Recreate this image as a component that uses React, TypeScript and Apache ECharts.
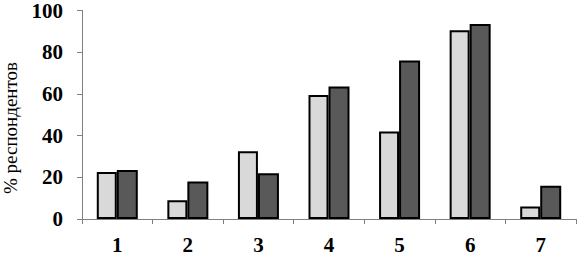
import React, { useEffect, useRef } from "react";
import * as echarts from "echarts";

const categories = ["1", "2", "3", "4", "5", "6", "7"];
const seriesA = [22.5, 9, 32.5, 59.5, 42, 90.5, 6];
const seriesB = [23.5, 18, 22, 63.5, 76, 93.5, 16];
const yTicks = { min: 0, max: 100, interval: 20 };
const yName = "% респондентов";

export default function App() {
  const ref = useRef<HTMLDivElement>(null);
  useEffect(() => {
    const chart = echarts.init(ref.current!, null, { renderer: "svg" });
    const font = "'Liberation Serif', serif";
    chart.setOption({
      animation: false,
      grid: { left: 82, right: 1, top: 7, bottom: 39, containLabel: false },
      xAxis: {
        type: "category",
        data: categories,
        axisLine: { lineStyle: { color: "#808080", width: 1 } },
        axisTick: { show: true, length: 5, lineStyle: { color: "#808080" } },
        axisLabel: {
          margin: 15,
          color: "#000",
          fontFamily: font,
          fontWeight: "bold",
          fontSize: 21,
        },
      },
      yAxis: {
        type: "value",
        min: yTicks.min,
        max: yTicks.max,
        interval: yTicks.interval,
        splitLine: { show: false },
        axisLine: { show: true, lineStyle: { color: "#808080", width: 1 } },
        axisTick: { show: true, length: 5, lineStyle: { color: "#808080" } },
        axisLabel: {
          margin: 19,
          color: "#000",
          fontFamily: font,
          fontWeight: "bold",
          fontSize: 21,
        },
      },
      graphic: [
        {
          type: "text",
          x: 10,
          y: 128,
          rotation: Math.PI / 2,
          style: {
            text: yName,
            fontFamily: font,
            fontSize: 19,
            fill: "#000",
            textAlign: "center",
            textVerticalAlign: "middle",
          },
        },
      ],
      series: [
        {
          type: "bar",
          data: seriesA,
          barWidth: 20,
          barGap: "0%",
          itemStyle: { color: "#d9d9d9", borderColor: "#000", borderWidth: 2 },
        },
        {
          type: "bar",
          data: seriesB,
          barWidth: 21,
          itemStyle: { color: "#595959", borderColor: "#000", borderWidth: 2 },
        },
      ],
    });
    return () => chart.dispose();
  }, []);
  return <div ref={ref} style={{ width: 577, height: 258, position: "absolute", left: 0, top: 0 }} />;
}
